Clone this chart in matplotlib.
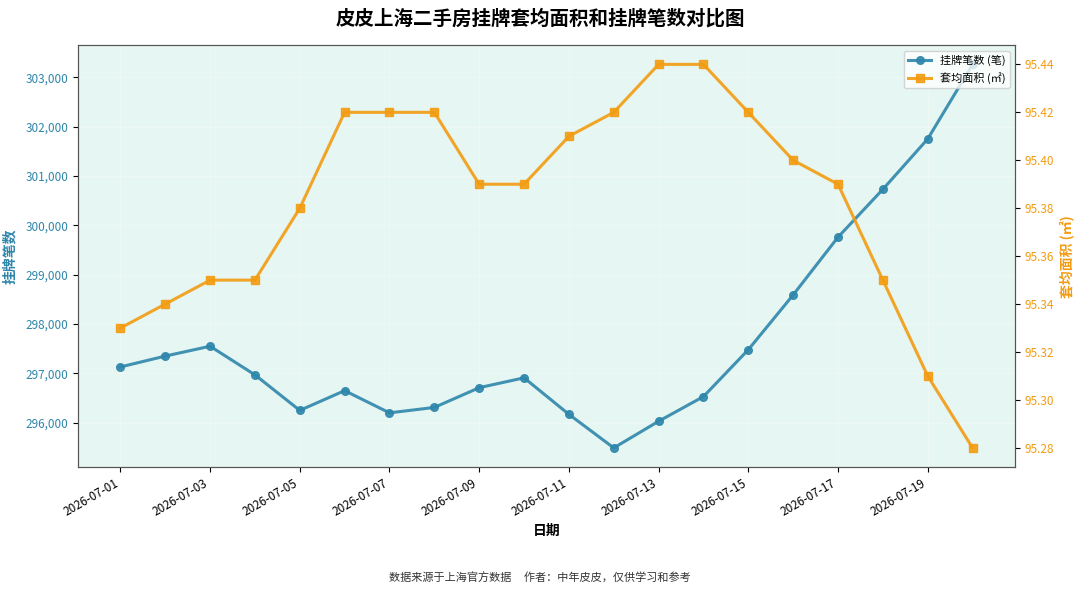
"""皮皮上海二手房挂牌套均面积和挂牌笔数对比图，保存为 out.png。"""

import matplotlib

matplotlib.use("Agg")

import matplotlib.dates as mdates
import matplotlib.pyplot as plt
import matplotlib.ticker as mticker
import pandas as pd

plt.rcParams["font.family"] = ["Noto Sans CJK SC", "DejaVu Sans"]
plt.rcParams["axes.unicode_minus"] = False

# 数据
dates = pd.date_range("2026-07-01", "2026-07-20", freq="D")
listings = [
    297130, 297350, 297550, 296970, 296250, 296650, 296200, 296310, 296710, 296910,
    296170, 295490, 296030, 296530, 297480, 298590, 299760, 300730, 301750, 303260,
]
avg_area = [
    95.33, 95.34, 95.35, 95.35, 95.38, 95.42, 95.42, 95.42, 95.39, 95.39,
    95.41, 95.42, 95.44, 95.44, 95.42, 95.40, 95.39, 95.35, 95.31, 95.28,
]

BLUE = "#2E86AB"
ORANGE = "#F39C12"

fig = plt.figure(figsize=(10.8, 5.95), dpi=100)
ax1 = fig.add_axes([0.072, 0.215, 0.868, 0.709])
ax1.set_facecolor("#E6F6F2")
ax1.grid(True, color="white", linewidth=0.8, alpha=0.3)

l1, = ax1.plot(dates, listings, color=BLUE, linewidth=2.2, marker="o",
               markersize=5.5, alpha=0.9, label="挂牌笔数 (笔)")
ax1.set_ylabel("挂牌笔数", color=BLUE, fontsize=10, fontweight="bold", labelpad=6)
ax1.tick_params(axis="y", labelcolor=BLUE, labelsize=8.5)
ax1.yaxis.set_major_formatter(mticker.FuncFormatter(lambda v, _: f"{v:,.0f}"))
ax1.yaxis.set_major_locator(mticker.MultipleLocator(1000))

ax2 = ax1.twinx()
l2, = ax2.plot(dates, avg_area, color=ORANGE, linewidth=2.2, marker="s",
               markersize=5.5, alpha=0.9, label="套均面积 (㎡)")
ax2.set_ylabel("套均面积 (㎡)", color=ORANGE, fontsize=10, fontweight="bold")
ax2.tick_params(axis="y", labelcolor=ORANGE, labelsize=8.5)
ax2.yaxis.set_major_formatter(mticker.FormatStrFormatter("%.2f"))
ax2.yaxis.set_major_locator(mticker.MultipleLocator(0.02))

ax1.set_xticks(dates[::2])
ax1.xaxis.set_major_formatter(mdates.DateFormatter("%Y-%m-%d"))
for label in ax1.get_xticklabels():
    label.set_rotation(30)
    label.set_ha("right")
    label.set_fontsize(8.5)
ax1.set_xlabel("日期", fontsize=10, fontweight="bold")

for spine in list(ax1.spines.values()) + list(ax2.spines.values()):
    spine.set_color("#555555")

ax1.legend(handles=[l1, l2], loc="upper right", fontsize=8, framealpha=0.8)

fig.suptitle("皮皮上海二手房挂牌套均面积和挂牌笔数对比图", fontsize=14,
             fontweight="bold", y=0.985)
fig.text(0.5, 0.022, "数据来源于上海官方数据     作者：中年皮皮，仅供学习和参考",
         ha="center", fontsize=8, color="#333333")

fig.savefig("out.png", dpi=100)
plt.close(fig)
